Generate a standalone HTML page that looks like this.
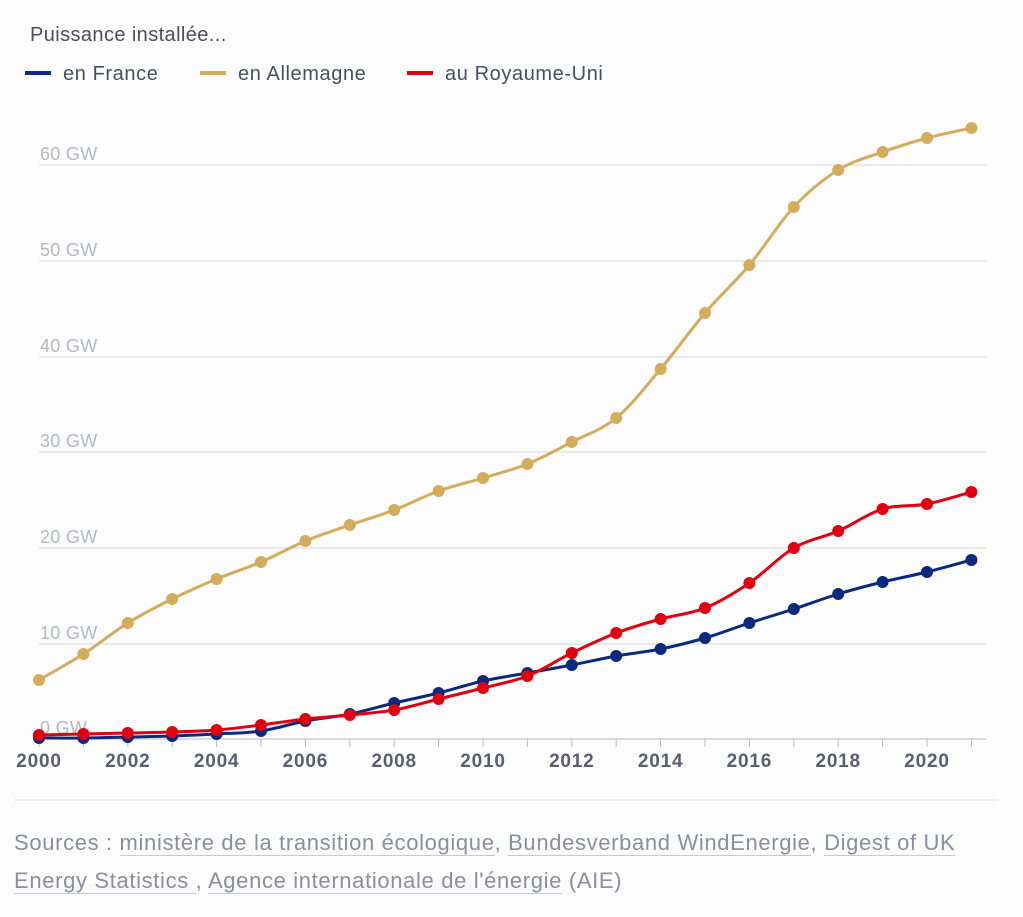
<!DOCTYPE html>
<html><head><meta charset="utf-8"><style>
body{margin:0;background:#fcfcfd;width:1023px;height:917px;overflow:hidden;font-family:"Liberation Sans",sans-serif}
.t{position:absolute;left:30px;top:24px;font-size:20px;color:#4a4f5e;letter-spacing:0.4px}
.lg{position:absolute;top:63px;font-size:20px;color:#4a4f5e;letter-spacing:0.6px}
.lg i{display:inline-block;width:26px;height:4px;vertical-align:middle;margin-right:12px;position:relative;top:-2px}
.src{position:absolute;left:14px;top:824px;font-size:22px;line-height:38px;color:#8a8f9c;width:1000px;letter-spacing:0.65px;white-space:nowrap}
.src u{text-decoration:none;border-bottom:1px solid #c8cad0}
</style></head><body>
<div class="t">Puissance installée...</div>
<div class="lg" style="left:25px"><i style="background:#0b2a7d"></i>en France</div>
<div class="lg" style="left:200px"><i style="background:#d4ad5c"></i>en Allemagne</div>
<div class="lg" style="left:407px"><i style="background:#e0000f"></i>au Royaume-Uni</div>
<svg width="1023" height="917" style="position:absolute;left:0;top:0">
<g stroke="#d8d9dc" stroke-width="1">
<line x1="39" x2="987" y1="165" y2="165"/><line x1="39" x2="987" y1="261" y2="261"/><line x1="39" x2="987" y1="357" y2="357"/><line x1="39" x2="987" y1="452" y2="452"/><line x1="39" x2="987" y1="548" y2="548"/><line x1="39" x2="987" y1="644" y2="644"/>
<line x1="14" x2="998" y1="800" y2="800" stroke="#e4e5e8"/>
</g>
<line x1="39" x2="987" y1="739" y2="739" stroke="#b8bac0"/>
<g font-size="18" fill="#b5b8bf" font-family="Liberation Sans" letter-spacing="0.3">
<text x="40" y="160">60 GW</text><text x="40" y="256">50 GW</text><text x="40" y="352">40 GW</text><text x="40" y="447">30 GW</text><text x="40" y="543">20 GW</text><text x="40" y="639">10 GW</text><text x="40" y="734">0 GW</text>
</g>
<g id="ticks" stroke="#b8bac0"></g>
<g id="lab" font-size="19" fill="#4a4f5e" text-anchor="middle" font-family="Liberation Sans" letter-spacing="0.8" font-weight="bold" opacity="0.9"></g>
<g id="ser"></g>
</svg>
<div class="src">Sources : <u>ministère de la transition écologique</u>, <u>Bundesverband WindEnergie</u>, <u>Digest of UK<br>Energy Statistics </u>, <u>Agence internationale de l'énergie</u> (AIE)</div>
<script>
var ns="http://www.w3.org/2000/svg";
function el(n,a,p){var e=document.createElementNS(ns,n);for(var k in a)e.setAttribute(k,a[k]);p.appendChild(e);return e;}
var X=function(i){return 39+44.4*i;};
var tk=document.getElementById('ticks'),lb=document.getElementById('lab');
for(var i=0;i<22;i++){el('line',{x1:X(i),x2:X(i),y1:739,y2:747},tk);if(i%2==0){var t=el('text',{x:X(i),y:767},lb);t.textContent=2000+i;}}
var D=[["#d4ad5c",[680,654,623,599,579,562,541,525,510,491,478,464,442,418,369,313,265,207,170,152,138,128]],
["#0b2a7d",[738,738,737,736,734,731,721,714,703,693,681,673,665,656,649,638,623,609,594,582,572,560]],
["#e0000f",[735,734,733,732,730,725,719,715,710,699,688,676,653,633,619,608,583,548,531,509,504,492]]];
var g=document.getElementById('ser');
D.forEach(function(s){var v=s[1],d="M"+X(0)+","+v[0];
for(var i=0;i<v.length-1;i++){var p0=i?i-1:i,p3=i+2<v.length?i+2:i+1;
var c1x=X(i)+(X(i+1)-X(p0))/6,c1y=v[i]+(v[i+1]-v[p0])/6,c2x=X(i+1)-(X(p3)-X(i))/6,c2y=v[i+1]-(v[p3]-v[i])/6;
d+=" C"+c1x+","+c1y+" "+c2x+","+c2y+" "+X(i+1)+","+v[i+1];}
el('path',{d:d,fill:"none",stroke:s[0],"stroke-width":3},g);
v.forEach(function(y,i){el('circle',{cx:X(i),cy:y,r:6,fill:s[0]},g);});});
</script>
</body></html>
